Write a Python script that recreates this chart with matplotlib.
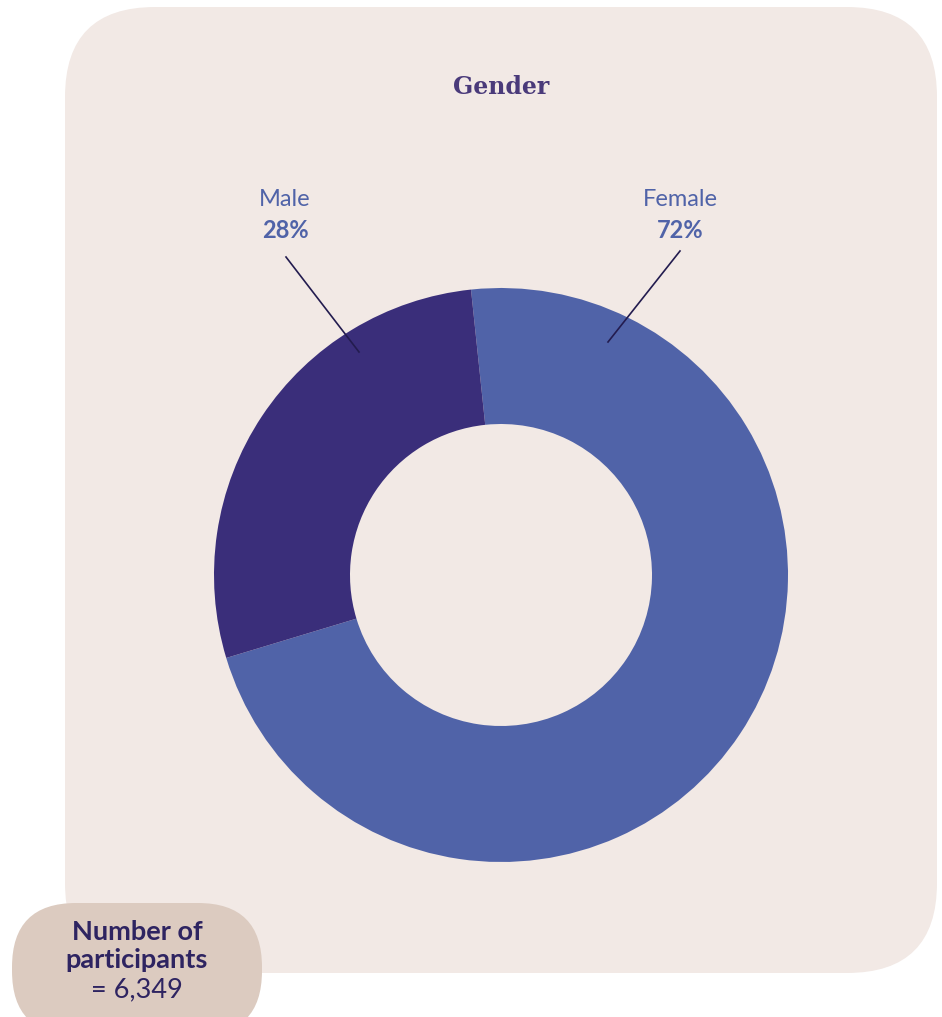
import matplotlib.pyplot as plt
from matplotlib.patches import FancyBboxPatch

labels = ['Female', 'Male']
shares = [72, 28]
colors = ['#5063a8', '#3a2e7a']
title = 'Gender'
n_participants = 6349

W, H = 942, 1017
fig = plt.figure(figsize=(W / 100, H / 100), dpi=100)
ax = fig.add_axes([0, 0, 1, 1])

def py(y):
    # pixel row (from top) -> data y
    return H - y

# donut
cx, cy, r_out, r_in = 501, py(575), 287, 151
ax.pie(shares, colors=colors, startangle=96, counterclock=False,
       center=(cx, cy), radius=r_out,
       wedgeprops=dict(width=r_out - r_in, edgecolor='none', zorder=2), frame=True)
ax.set_xlim(0, W)
ax.set_ylim(0, H)
ax.set_aspect('equal')
ax.axis('off')

# background panel
panel = FancyBboxPatch((65 + 90, py(973) + 90), 872 - 180, 966 - 180,
                       boxstyle='round,pad=90', fc='#f2e9e5', ec='none', zorder=0)
ax.add_patch(panel)

ax.text(501, py(87), title, ha='center', va='center', fontsize=17,
        fontweight='bold', family='DejaVu Serif', color='#4a3a7a')

# labels with leader lines
label_pos = {'Female': (680, 199), 'Male': (285, 199)}
line_pts = {'Female': ((680, 251), (608, 342)), 'Male': ((286, 257), (359, 352))}
for lab, val in zip(labels, shares):
    x, y = label_pos[lab]
    ax.text(x, py(y), lab, ha='center', va='center', fontsize=17,
            family='Lato', color='#5063a8')
    ax.text(x, py(y + 31), f'{val}%', ha='center', va='center', fontsize=17,
            family='Lato', fontweight='bold', color='#5063a8')
    (x0, y0), (x1, y1) = line_pts[lab]
    ax.plot([x0, x1], [py(y0), py(y1)], color='#231c4f', lw=1.2, zorder=5)

# participants badge
rb = 64
badge = FancyBboxPatch((12 + rb, py(1035) + rb), 250 - 2 * rb, 132 - 2 * rb,
                       boxstyle=f'round,pad={rb}', fc='#dccbc0', ec='none', zorder=6)
ax.add_patch(badge)
ax.text(137, py(932), 'Number of', ha='center', va='center', fontsize=19.5,
        family='Lato', fontweight='bold', color='#2e2461', zorder=7)
ax.text(137, py(960), 'participants', ha='center', va='center', fontsize=19.5,
        family='Lato', fontweight='bold', color='#2e2461', zorder=7)
ax.text(137, py(990), f'= {n_participants:,}', ha='center', va='center', fontsize=19.5,
        family='Lato', color='#2e2461', zorder=7)

fig.savefig('out.png', dpi=100, facecolor='white')
